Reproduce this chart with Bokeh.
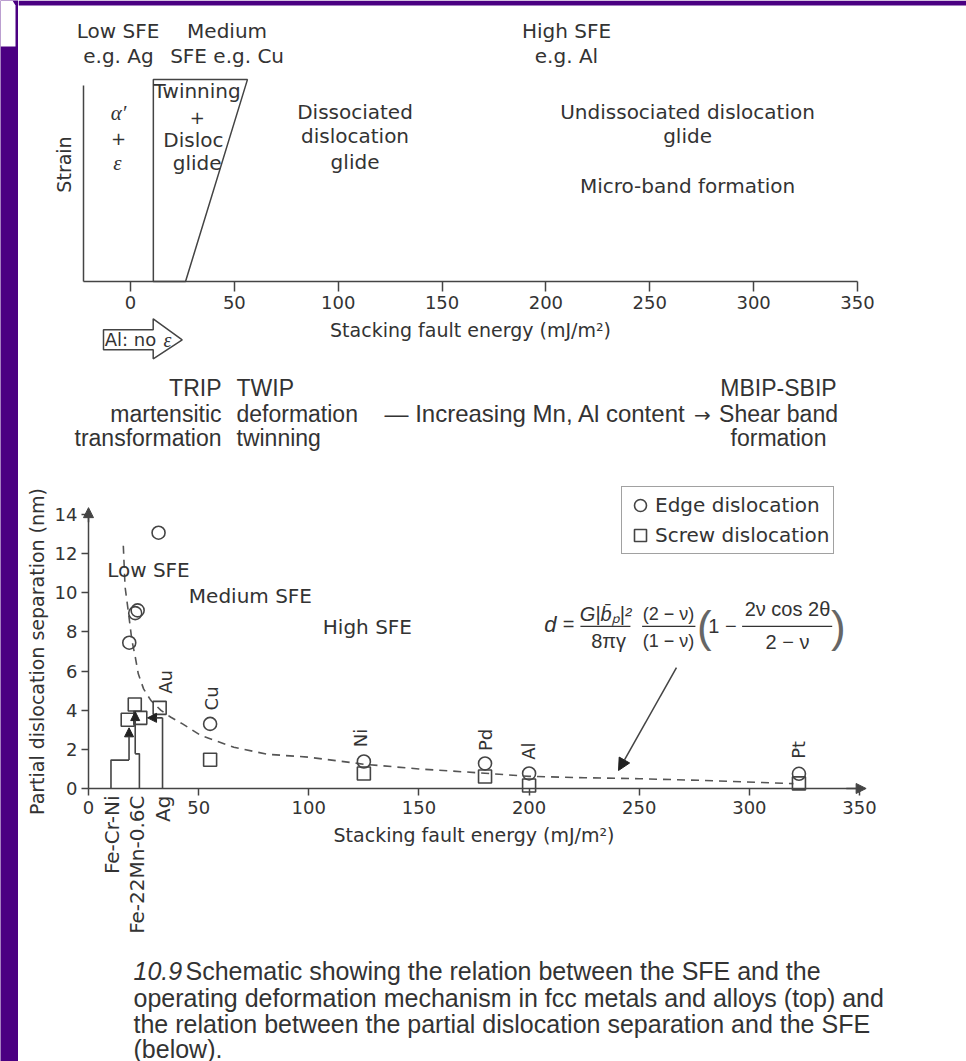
import math
from bokeh.plotting import figure
from bokeh.layouts import row, column
from bokeh.models import (Range1d, LinearAxis, FixedTicker, Arrow, NormalHead,
                          Legend, LegendItem)
from bokeh.core.properties import value
from bokeh.embed import file_html
from bokeh.resources import INLINE

# ---------------- data: top panel (deformation mechanism map) ----------------
top_sfe_ticks = [0, 50, 100, 150, 200, 250, 300, 350]
twin_zone_sfe = [11.0, 11.0, 56.3, 26.5]          # twinning + dislocation glide window
twin_zone_strain = [0.0, 1.03, 1.03, 0.0]

# ---------------- data: bottom panel (partial dislocation separation) --------
sfe_ticks = [0, 50, 100, 150, 200, 250, 300, 350]
sep_ticks = [0, 2, 4, 6, 8, 10, 12, 14]
edge_sfe = [18.5, 21.2, 22.3, 31.8, 55.2, 125.0, 180.0, 200.0, 322.5]
edge_sep = [7.45, 8.96, 9.10, 13.07, 3.30, 1.38, 1.28, 0.77, 0.75]
screw_sfe = [17.8, 21.0, 23.5, 32.3, 55.2, 125.0, 180.0, 200.0, 322.5]
screw_sep = [3.51, 4.29, 3.61, 4.12, 1.47, 0.77, 0.61, 0.15, 0.26]
curve_sfe = [15.8, 16.6, 18.2, 19.7, 21.1, 22.6, 25.0, 28.3, 32.9, 37.4, 42.7, 51.0,
             66.0, 81.0, 100.0, 125.0, 150.0, 180.0, 200.0, 225.0, 250.0, 280.0, 320.0]
curve_sep = [12.4, 10.3, 8.93, 7.56, 6.8, 5.86, 5.09, 4.5, 3.99, 3.64, 3.3, 2.71,
             2.11, 1.75, 1.6, 1.24, 1.0, 0.78, 0.62, 0.55, 0.5, 0.41, 0.25]
element_names = ["Au", "Cu", "Ni", "Pd", "Al", "Pt"]
element_sfe = [35.0, 55.7, 123.6, 180.0, 199.9, 322.2]
element_label_sep = [4.84, 3.99, 2.11, 1.91, 1.47, 1.52]
alloy_names = ["Fe-Cr-Ni", "Fe-22Mn-0.6C", "Ag"]
alloy_sfe = [10.8, 22.1, 34.0]
fecrni_sfe = [10.2, 10.2, 18.4, 18.4]
fecrni_sep = [0.0, 1.45, 1.45, 3.1]
femn_sfe = [23.1, 23.1, 21.2, 21.2]
femn_sep = [0.0, 1.77, 1.77, 3.93]
ag_sfe = [33.6, 33.6, 26.8]
ag_sep = [0.0, 3.61, 3.61]
formula_arrow_sfe = [266.9, 240.6]
formula_arrow_sep = [6.18, 0.92]

# ---------------- styles ----------------
PURPLE = "#4B0082"
INK = "#333333"
LINE = "#444444"
SANS = "DejaVu Sans"
COND = "Liberation Sans"
SERIF = "Liberation Serif"


def style_axis(ax, tick_size, label_size):
    ax.axis_line_color = LINE
    ax.axis_line_width = 1.5
    ax.major_tick_line_color = LINE
    ax.major_tick_line_width = 1.5
    ax.minor_tick_line_color = None
    ax.major_label_text_font = SANS
    ax.major_label_text_font_size = tick_size
    ax.major_label_text_color = INK
    ax.axis_label_text_font = SANS
    ax.axis_label_text_font_size = label_size
    ax.axis_label_text_font_style = "normal"
    ax.axis_label_text_color = INK


def txt(p, x, y, s, size="20px", font=SANS, style="normal", align="center",
        baseline="middle", angle=0.0, color=INK, **kw):
    p.text(x=[x], y=[y], text=[s], text_font=value(font), text_font_size=size,
           text_font_style=style, text_align=align, text_baseline=baseline,
           angle=angle, text_color=color, **kw)


def panel(w, h, xr, yr, bg="white"):
    return figure(width=w, height=h, x_range=xr, y_range=yr, output_backend="svg",
                  toolbar_location=None, x_axis_type=None, y_axis_type=None,
                  min_border=0, outline_line_color=None,
                  background_fill_color=bg, border_fill_color=bg)


# ---------------- purple frame strip (left) ----------------
strip_left = panel(18, 1061, Range1d(0, 18), Range1d(1061, 0), bg=PURPLE)
strip_left.patch([0, 12, 15, 15, 0], [0, 0, 5, 46, 46], fill_color="white", line_color=None)

# ---------------- top panel ----------------
pt = panel(948, 360, Range1d(-53.92, 402.49), Range1d(-0.4031, 1.4337))
pt.extra_x_ranges = {"px": Range1d(18, 966)}
pt.extra_y_ranges = {"py": Range1d(360, 0)}
pt.quad(left=[18], right=[966], top=[0], bottom=[5], x_range_name="px", y_range_name="py",
        fill_color=PURPLE, line_color=None)

xa = LinearAxis(ticker=FixedTicker(ticks=top_sfe_ticks), bounds=(-22.63, 350), fixed_location=0,
                axis_label="Stacking fault energy (mJ/m²)", major_tick_in=0, major_tick_out=10,
                axis_label_standoff=6, major_label_standoff=5)
style_axis(xa, "18px", "19px")
pt.add_layout(xa, "below")
ya = LinearAxis(ticker=FixedTicker(ticks=[]), bounds=(0, 1), fixed_location=-22.63,
                major_tick_in=0, major_tick_out=0)
style_axis(ya, "18px", "19px")
pt.add_layout(ya, "left")
txt(pt, -32.0, 0.597, "Strain", size="19px", angle=math.pi / 2)

pt.patch(twin_zone_sfe, twin_zone_strain, fill_color=None, line_color=LINE, line_width=1.5)

txt(pt, -6.0, 1.276, "Low SFE")
txt(pt, -5.8, 1.153, "e.g. Ag")
txt(pt, 46.5, 1.276, "Medium")
txt(pt, 46.5, 1.153, "SFE e.g. Cu")
txt(pt, 209.9, 1.276, "High SFE")
txt(pt, 209.9, 1.153, "e.g. Al")
txt(pt, -5.8, 0.859, "α′", size="21px", font=SERIF, style="italic")
txt(pt, -5.8, 0.728, "+", size="18px")
txt(pt, -6.3, 0.604, "ε", size="21px", font=SERIF, style="italic")
txt(pt, 32.1, 0.971, "Twinning")
txt(pt, 32.1, 0.838, "+", size="18px")
txt(pt, 30.3, 0.723, "Disloc")
txt(pt, 32.1, 0.604, "glide")
txt(pt, 108.1, 0.867, "Dissociated")
txt(pt, 108.1, 0.740, "dislocation")
txt(pt, 108.1, 0.612, "glide")
txt(pt, 268.2, 0.867, "Undissociated dislocation")
txt(pt, 268.2, 0.740, "glide")
txt(pt, 268.2, 0.485, "Micro-band formation")

# "Al: no ε" arrow box
pt.patch([-13.0, 10.93, 10.93, 24.9, 10.93, 10.93, -13.0],
         [-0.2464, -0.2464, -0.1903, -0.2974, -0.3944, -0.3485, -0.3485],
         fill_color="white", line_color=LINE, line_width=1.5)
txt(pt, -12.4, -0.298, "Al: no", size="18px", align="left")
txt(pt, 17.8, -0.298, "ε", size="20px", font=SERIF, style="italic")

# ---------------- middle text block ----------------
pm = panel(948, 100, Range1d(18, 966), Range1d(460, 360))
for yy, s in zip([387, 413, 437], ["TRIP", "martensitic", "transformation"]):
    txt(pm, 221, yy, s, size="23px", font=COND, align="right")
for yy, s in zip([387, 413, 437], ["TWIP", "deformation", "twinning"]):
    txt(pm, 236, yy, s, size="23px", font=COND, align="left")
txt(pm, 384, 413, "— Increasing Mn, Al content", size="24px", font=COND, align="left")
txt(pm, 702, 414, "→", size="20px", font=SANS, align="center")
for yy, s in zip([387, 413, 437], ["MBIP-SBIP", "Shear band", "formation"]):
    txt(pm, 778, yy, s, size="23px", font=COND, align="center")

# ---------------- bottom panel ----------------
pb = panel(948, 485, Range1d(-31.78, 398.56), Range1d(-8.022, 16.759))
bxa = LinearAxis(ticker=FixedTicker(ticks=sfe_ticks), bounds=(0, 350), fixed_location=0,
                 axis_label="Stacking fault energy (mJ/m²)", major_tick_in=0, major_tick_out=7,
                 axis_label_standoff=6, major_label_standoff=6)
style_axis(bxa, "18px", "19px")
pb.add_layout(bxa, "below")
bya = LinearAxis(ticker=FixedTicker(ticks=sep_ticks), bounds=(0, 14), fixed_location=0,
                 axis_label="Partial dislocation separation (nm)", major_tick_in=0,
                 major_tick_out=7, axis_label_standoff=4, major_label_standoff=4)
style_axis(bya, "18px", "19px")
pb.add_layout(bya, "left")

head = dict(size=10, fill_color=LINE, line_color=LINE)
pb.add_layout(Arrow(end=NormalHead(**head), x_start=0, y_start=13.6, x_end=0, y_end=14.35,
                    line_color=LINE, line_width=1.5))
pb.add_layout(Arrow(end=NormalHead(**head), x_start=344, y_start=0, x_end=353, y_end=0,
                    line_color=LINE, line_width=1.5))

pb.line(curve_sfe, curve_sep, line_color="#555555", line_width=1.6, line_dash="8 6")

ahead = dict(size=9, fill_color="#222222", line_color="#222222")
pb.line(fecrni_sfe[:3], fecrni_sep[:3], line_color=LINE, line_width=1.6)
pb.add_layout(Arrow(end=NormalHead(**ahead), x_start=fecrni_sfe[2], y_start=fecrni_sep[2],
                    x_end=fecrni_sfe[3], y_end=fecrni_sep[3], line_color=LINE, line_width=1.6))
pb.line(femn_sfe[:3], femn_sep[:3], line_color=LINE, line_width=1.6)
pb.add_layout(Arrow(end=NormalHead(**ahead), x_start=femn_sfe[2], y_start=femn_sep[2],
                    x_end=femn_sfe[3], y_end=femn_sep[3], line_color=LINE, line_width=1.6))
pb.line(ag_sfe[:2], ag_sep[:2], line_color=LINE, line_width=1.6)
pb.add_layout(Arrow(end=NormalHead(**ahead), x_start=ag_sfe[1], y_start=ag_sep[1],
                    x_end=ag_sfe[2], y_end=ag_sep[2], line_color=LINE, line_width=1.6))

r_edge = pb.scatter(edge_sfe, edge_sep, marker="circle", size=13, fill_color=None,
                    line_color=LINE, line_width=1.6)
r_screw = pb.scatter(screw_sfe, screw_sep, marker="square", size=13, fill_color=None,
                     line_color=LINE, line_width=1.6)

pb.text(x=element_sfe, y=element_label_sep, text=element_names, angle=math.pi / 2,
        text_font=value(SANS), text_font_size="18px", text_align="left",
        text_baseline="middle", text_color=INK)
pb.text(x=alloy_sfe, y=[-0.36] * len(alloy_sfe), text=alloy_names, angle=math.pi / 2,
        text_font=value(SANS), text_font_size="20px", text_align="right",
        text_baseline="middle", text_color=INK)

txt(pb, 27.2, 11.14, "Low SFE")
txt(pb, 73.5, 9.86, "Medium SFE")
txt(pb, 126.6, 8.23, "High SFE")

# formula
txt(pb, 209.7, 8.40, "d", size="22px", font=COND, style="italic")
txt(pb, 217.9, 8.40, "=", size="20px", font=COND)
pb.segment(x0=[223.3, 251.3, 296.7], y0=[8.28] * 3, x1=[246.0, 275.5, 337.6], y1=[8.28] * 3,
           line_color=INK, line_width=1.2)
txt(pb, 234.7, 8.94, "G|b̄ₚ|²", size="20px", font=COND, style="italic")
txt(pb, 236.1, 7.56, "8πγ", size="20px", font=COND)
txt(pb, 263.3, 8.94, "(2 − ν)", size="18px", font=COND)
txt(pb, 263.3, 7.56, "(1 − ν)", size="18px", font=COND)
txt(pb, 279.6, 8.28, "(", size="44px", font=COND, color="#666666")
txt(pb, 287.8, 8.28, "1 −", size="20px", font=COND)
txt(pb, 317.3, 9.15, "2ν cos 2θ", size="20px", font=COND)
txt(pb, 317.3, 7.46, "2 − ν", size="20px", font=COND)
txt(pb, 340.4, 8.28, ")", size="44px", font=COND, color="#666666")

pb.add_layout(Arrow(end=NormalHead(size=12, fill_color="#222222", line_color="#222222"),
                    x_start=formula_arrow_sfe[0], y_start=formula_arrow_sep[0],
                    x_end=formula_arrow_sfe[1], y_end=formula_arrow_sep[1],
                    line_color=LINE, line_width=1.5))

legend = Legend(items=[LegendItem(label="Edge dislocation", renderers=[r_edge]),
                       LegendItem(label="Screw dislocation", renderers=[r_screw])],
                location=(603, 391), orientation="vertical", glyph_width=30, glyph_height=30,
                label_standoff=0, padding=3, spacing=0, margin=0,
                label_text_font=SANS, label_text_font_size="20px", label_text_color=INK,
                border_line_color=LINE, border_line_width=1.5,
                background_fill_color="white", background_fill_alpha=1.0)
pb.add_layout(legend)

# ---------------- caption ----------------
pc = panel(948, 116, Range1d(18, 966), Range1d(1061, 945))
txt(pc, 133, 970, "10.9", size="25px", font=COND, style="italic", align="left")
txt(pc, 185, 970, "Schematic showing the relation between the SFE and the", size="25px",
    font=COND, align="left")
txt(pc, 133, 997, "operating deformation mechanism in fcc metals and alloys (top) and",
    size="25px", font=COND, align="left")
txt(pc, 133, 1023, "the relation between the partial dislocation separation and the SFE",
    size="25px", font=COND, align="left")
txt(pc, 133, 1048, "(below).", size="25px", font=COND, align="left")

layout = row(strip_left, column(pt, pm, pb, pc))
open("out.html", "w").write(file_html(layout, INLINE))
